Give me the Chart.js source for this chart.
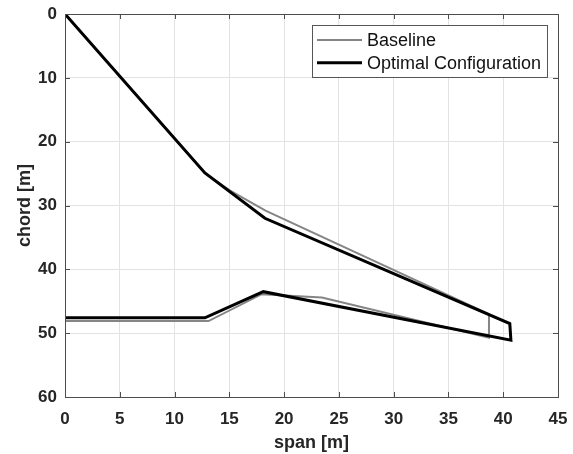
<!DOCTYPE html>
<html>
<head>
<meta charset="utf-8">
<script src="https://cdn.jsdelivr.net/npm/chart.js@4/dist/chart.umd.min.js"></script>
<style>
html,body{margin:0;padding:0;background:#fff;}
#wrap{width:573px;height:454px;position:relative;}
</style>
</head>
<body>
<div id="wrap"><canvas id="c" width="573" height="454"></canvas></div>
<script>
// Data
const seriesNames = ["Baseline", "Optimal Configuration"];
const baselineSpan  = [0, 12.77, 15.0, 18.3, 38.7, 38.7, 23.45, 17.95, 13.1, 0];
const baselineChord = [0, 24.9, 27.6, 30.8, 47.0, 50.7, 44.4, 43.9, 48.1, 48.1];
const optimalSpan   = [0, 12.77, 18.25, 40.6, 40.7, 18.1, 12.77, 0];
const optimalChord  = [0, 24.9, 32.0, 48.5, 51.1, 43.5, 47.6, 47.6];
const xTicks = [0, 5, 10, 15, 20, 25, 30, 35, 40, 45];
const yTicks = [0, 10, 20, 30, 40, 50, 60];

function pts(xs, ys){ return xs.map((x,i)=>({x:x, y:ys[i]})); }

const FONT = "'Liberation Sans', Arial, Helvetica, sans-serif";

const boxPlugin = {
  id: 'boxTicks',
  afterDraw(chart){
    const {ctx, chartArea:a, scales} = chart;
    ctx.save();
    ctx.strokeStyle = '#4d4d4d';
    ctx.lineWidth = 1;
    ctx.beginPath();
    const L=5;
    xTicks.forEach(v=>{
      const px = Math.round(scales.x.getPixelForValue(v))+0.5;
      ctx.moveTo(px, a.bottom); ctx.lineTo(px, a.bottom-L);
      ctx.moveTo(px, a.top); ctx.lineTo(px, a.top+L);
    });
    yTicks.forEach(v=>{
      const py = Math.round(scales.y.getPixelForValue(v))+0.5;
      ctx.moveTo(a.left, py); ctx.lineTo(a.left+L, py);
      ctx.moveTo(a.right, py); ctx.lineTo(a.right-L, py);
    });
    ctx.stroke();
    ctx.strokeRect(Math.round(a.left)+0.5, Math.round(a.top)+0.5, Math.round(a.right-a.left), Math.round(a.bottom-a.top));
    // legend
    const lx=312.5, ly=25.5, lw=235, lh=52;
    ctx.fillStyle='#fff';
    ctx.fillRect(lx,ly,lw,lh);
    ctx.strokeStyle='#555';
    ctx.strokeRect(lx,ly,lw,lh);
    ctx.font = "18px " + FONT;
    ctx.textBaseline='middle';
    ctx.textAlign='left';
    chart.data.datasets.forEach((ds,i)=>{
      const yy = 40 + i*22.7;
      ctx.strokeStyle = ds.borderColor;
      ctx.lineWidth = ds.borderWidth;
      ctx.beginPath();
      ctx.moveTo(317, yy); ctx.lineTo(362, yy);
      ctx.stroke();
      ctx.fillStyle='#111';
      ctx.fillText(ds.label, 367, yy+1);
    });
    ctx.restore();
  }
};

new Chart(document.getElementById('c'), {
  type: 'scatter',
  data: {
    datasets: [
      {label: seriesNames[0], data: pts(baselineSpan, baselineChord), showLine: true, order: 2,
       borderColor: '#858585', borderWidth: 2, pointRadius: 0, fill: false, tension: 0},
      {label: seriesNames[1], data: pts(optimalSpan, optimalChord), showLine: true, order: 1,
       borderColor: '#000000', borderWidth: 3, pointRadius: 0, fill: false, tension: 0, borderJoinStyle: 'miter'}
    ]
  },
  options: {
    responsive: false,
    animation: false,
    devicePixelRatio: 1,
    layout: {padding: {left: 0, right: 15, top: 14, bottom: 0}},
    plugins: {legend: {display: false}, tooltip: {enabled: false}},
    scales: {
      x: {
        type: 'linear', min: 0, max: 45,
        afterFit(s){ s.height = 57; s.paddingLeft = 0; s.paddingRight = 0; },
        afterBuildTicks(s){ s.ticks = xTicks.map(v=>({value:v})); },
        grid: {color: '#e3e3e3', drawTicks: false},
        border: {display: false},
        ticks: {font: {family: FONT, size: 17, weight: 'bold'}, color: '#262626', padding: 12, maxRotation: 0},
        title: {display: true, text: 'span [m]', font: {family: FONT, size: 18, weight: 'bold'}, color: '#262626', padding: {top: 5, bottom: 0}}
      },
      y: {
        type: 'linear', min: 0, max: 60, reverse: true,
        afterFit(s){ s.width = 65; s.paddingTop = 0; s.paddingBottom = 0; },
        afterBuildTicks(s){ s.ticks = yTicks.map(v=>({value:v})); },
        grid: {color: '#e3e3e3', drawTicks: false},
        border: {display: false},
        ticks: {font: {family: FONT, size: 17, weight: 'bold'}, color: '#262626', padding: 8},
        title: {display: true, text: 'chord [m]', font: {family: FONT, size: 18, weight: 'bold'}, color: '#262626', padding: {top: 14, bottom: 0}}
      }
    }
  },
  plugins: [boxPlugin]
});
</script>
</body>
</html>
